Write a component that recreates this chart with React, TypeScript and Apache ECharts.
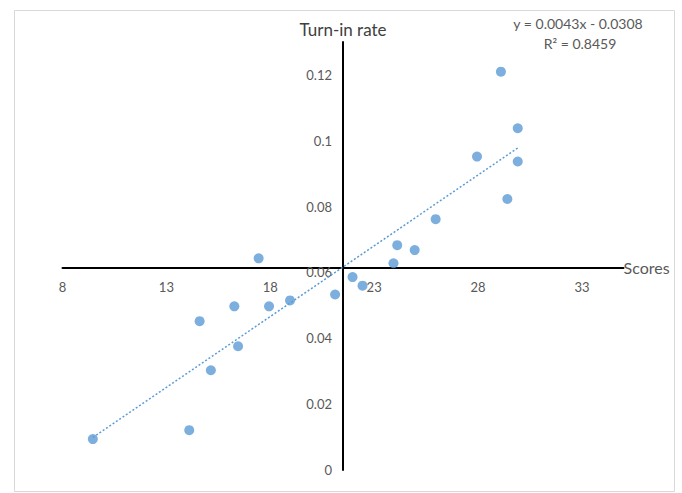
import React, { useEffect, useRef } from "react";
import * as echarts from "echarts";

// ---- data ----
const scores = [9.46, 14.1, 14.6, 15.14, 16.27, 16.45, 17.44, 17.94, 18.95, 21.12, 21.96, 22.44, 23.93, 24.11, 24.95, 25.96, 27.95, 29.1, 29.41, 29.91, 29.91];
const turnInRates = [0.0094, 0.0121, 0.0452, 0.0303, 0.0497, 0.0376, 0.0643, 0.0497, 0.0515, 0.0533, 0.0586, 0.056, 0.0628, 0.0683, 0.0668, 0.0762, 0.0952, 0.121, 0.0823, 0.1038, 0.0937];
const xTickLabels = [8, 13, 18, 23, 28, 33];
const yTickLabels = [0, 0.02, 0.04, 0.06, 0.08, 0.1, 0.12];
const trendSlope = 0.0043;
const trendIntercept = -0.0308;
const rSquared = "0.8459";
const xName = "Scores";
const yName = "Turn-in rate";

const X_MIN = 8;
const X_MAX = 35;
const Y_MIN = 0;
const Y_MAX = 0.13;
const X_CROSS = 21.5; // where the vertical axis crosses
const Y_CROSS = 0.0614; // where the horizontal axis crosses

const GRID = { left: 62.5, top: 42, width: 561, height: 428 };
const FONT = 'Lato, "Open Sans", sans-serif';
const BLUE = "#5B9BD5";

export default function App() {
  const ref = useRef<HTMLDivElement>(null);

  useEffect(() => {
    if (!ref.current) return;
    const chart = echarts.init(ref.current, undefined, { renderer: "svg" });

    const points = scores.map((s, i) => [s, turnInRates[i]]);
    const tMin = Math.min(...scores);
    const tMax = Math.max(...scores);
    const trend = [
      [tMin, trendSlope * tMin + trendIntercept],
      [tMax, trendSlope * tMax + trendIntercept],
    ];

    const xOffset = -((Y_CROSS - Y_MIN) / (Y_MAX - Y_MIN)) * GRID.height;
    const yOffset = -((X_CROSS - X_MIN) / (X_MAX - X_MIN)) * GRID.width;

    chart.setOption({
      animation: false,
      backgroundColor: "#ffffff",
      grid: { ...GRID, containLabel: false },
      xAxis: {
        type: "value",
        min: X_MIN,
        max: X_MAX,
        position: "bottom",
        offset: xOffset,
        name: xName,
        nameLocation: "end",
        nameGap: 0,
        nameTextStyle: { fontFamily: FONT, fontSize: 16, color: "#595959", align: "left", verticalAlign: "middle" },
        axisLine: { show: true, onZero: false, lineStyle: { color: "#000000", width: 2 } },
        axisTick: { show: false },
        splitLine: { show: false },
        axisLabel: {
          customValues: xTickLabels,
          margin: 13,
          fontFamily: FONT,
          fontSize: 13,
          color: "#595959",
        },
      },
      yAxis: {
        type: "value",
        min: Y_MIN,
        max: Y_MAX,
        position: "left",
        offset: yOffset,
        name: yName,
        nameLocation: "end",
        nameGap: 4,
        nameTextStyle: { fontFamily: FONT, fontSize: 17, color: "#404040", align: "center" },
        axisLine: { show: true, onZero: false, lineStyle: { color: "#000000", width: 2 } },
        axisTick: { show: false },
        splitLine: { show: false },
        axisLabel: {
          customValues: yTickLabels,
          margin: 11,
          fontFamily: FONT,
          fontSize: 13,
          color: "#595959",
        },
      },
      series: [
        {
          type: "line",
          data: trend,
          symbol: "none",
          silent: true,
          z: 1,
          lineStyle: { color: BLUE, width: 1.5, type: [2, 2] },
        },
        {
          type: "scatter",
          data: points,
          symbol: "circle",
          symbolSize: 10,
          z: 2,
          itemStyle: { color: BLUE },
        },
      ],
      graphic: [
        {
          type: "rect",
          shape: { x: 14.5, y: 10.5, width: 660, height: 481 },
          style: { fill: "none", stroke: "#D9D9D9", lineWidth: 1 },
          silent: true,
        },
        {
          type: "text",
          x: 578,
          y: 23,
          style: {
            text: `y = ${trendSlope}x - ${Math.abs(trendIntercept)}`,
            fontFamily: FONT,
            fontSize: 14,
            fill: "#595959",
            align: "center",
            verticalAlign: "middle",
          },
        },
        {
          type: "text",
          x: 580,
          y: 43,
          style: {
            text: `R² = ${rSquared}`,
            fontFamily: FONT,
            fontSize: 14,
            fill: "#595959",
            align: "center",
            verticalAlign: "middle",
          },
        },
      ],
    });

    return () => chart.dispose();
  }, []);

  return (
    <div
      ref={ref}
      style={{ position: "absolute", left: 0, top: 0, width: 682, height: 493 }}
    />
  );
}
